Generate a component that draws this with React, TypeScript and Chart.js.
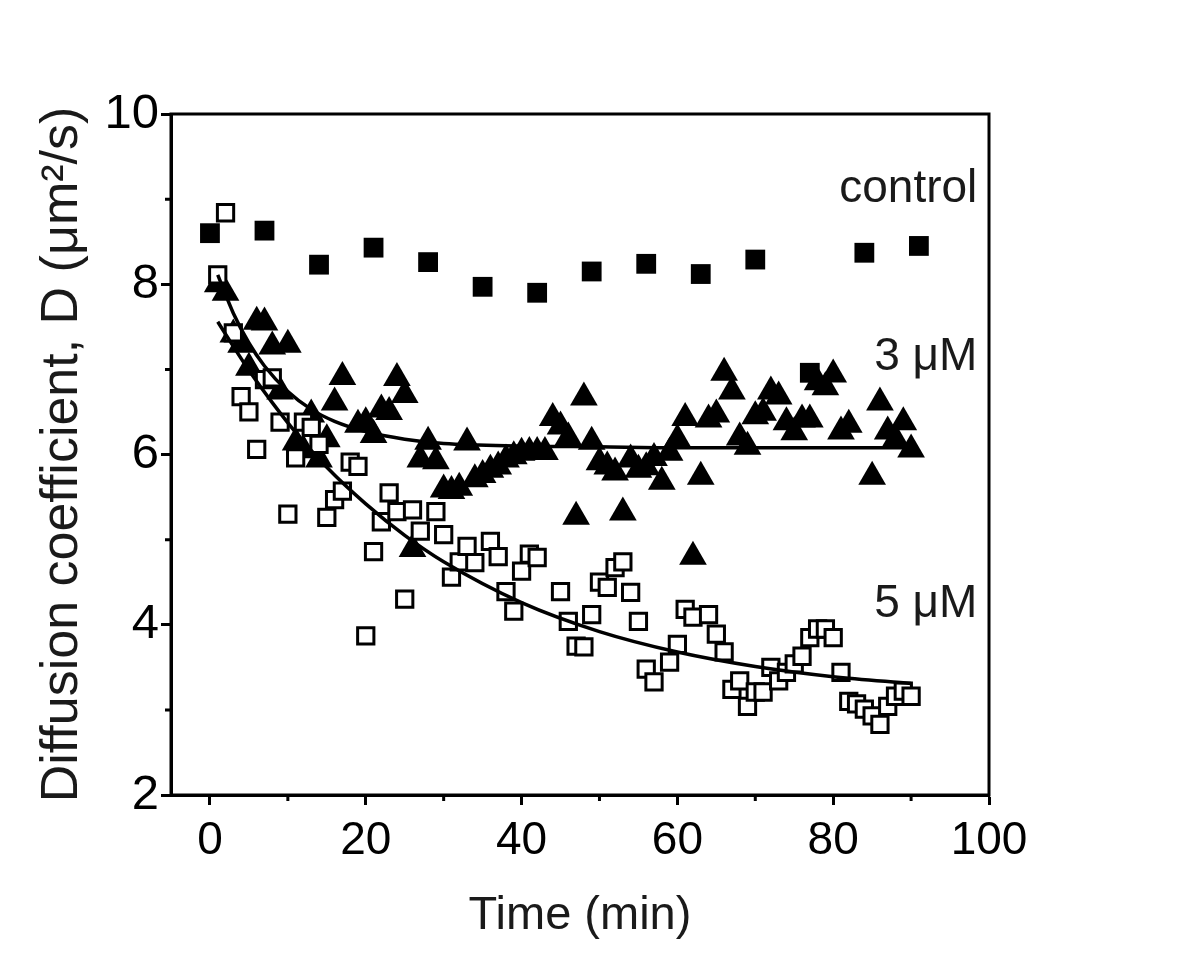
import React, { useEffect, useRef } from "react";
import { Chart, registerables } from "chart.js";

Chart.register(...registerables);

// ---- data ----
const controlTime = [0, 7, 14, 21, 28, 35, 42, 49, 56, 63, 70, 77, 84, 91];
const controlD = [8.6, 8.63, 8.23, 8.43, 8.26, 7.97, 7.9, 8.15, 8.24, 8.12, 8.29, 6.96, 8.37, 8.45];

const uM3Time = [
  1, 2, 3, 4, 5, 6, 7, 8, 9, 10,
  11, 12, 13, 14, 15, 16, 17,
  19, 20, 21, 22, 23, 24, 25, 26, 27, 28,
  29, 30, 31, 32, 33, 34, 35, 36, 37, 38,
  39, 40, 41, 42, 43, 44, 45, 46, 47, 48,
  49, 50, 51, 52, 53, 54, 55, 56, 57, 58,
  59, 60, 61, 62, 63, 64, 65, 66, 67, 68,
  69, 70, 71, 72, 73, 74, 75, 76, 77, 78,
  79, 80, 81, 82,
  85, 86, 87, 88, 89, 90,
];
const uM3D = [
  8.0, 7.9, 7.41, 7.29, 7.02, 7.56, 7.55, 7.27, 6.74, 7.29,
  6.14, 6.05, 6.47, 5.94, 6.18, 6.61, 6.91,
  6.35, 6.38, 6.23, 6.53, 6.5, 6.9, 6.7, 4.89, 5.94, 6.15,
  5.92, 5.59, 5.57, 5.61, 6.14, 5.71, 5.76, 5.82, 5.86, 5.94,
  5.98, 6.02, 6.03, 6.03, 6.03, 6.43, 6.33, 6.2, 5.27, 6.67,
  6.15, 5.91, 5.86, 5.79, 5.32, 5.94, 5.82, 5.85, 5.96, 5.68,
  6.02, 6.18, 6.43, 4.8, 5.74, 6.41, 6.47, 6.96, 6.74, 6.2,
  6.09, 6.45, 6.49, 6.74, 6.68, 6.38, 6.26, 6.41, 6.41, 6.85,
  6.79, 6.94, 6.27, 6.35,
  5.74, 6.61, 6.27, 6.18, 6.38, 6.06,
];

const uM5Time = [
  1, 2, 3, 4, 5, 6, 7, 8, 9, 10,
  11, 12, 13, 14, 15, 16, 17, 18, 19, 20,
  21, 22, 23, 24, 25, 26, 27, 29, 30, 31,
  32, 33, 34, 36, 37, 38, 39, 40, 41, 42,
  45, 46, 47, 48, 49, 50, 51, 52, 53, 54,
  55, 56, 57, 59, 60, 61, 62, 64, 65, 66,
  67, 68, 69, 70, 71, 72, 73, 74, 75, 76,
  77, 78, 79, 80, 81, 82, 83, 84, 85, 86,
  87, 88, 89, 90,
];
const uM5D = [
  8.11, 8.84, 7.43, 6.68, 6.5, 6.06, 6.88, 6.9, 6.38, 5.3,
  5.96, 6.38, 6.32, 6.12, 5.26, 5.47, 5.57, 5.91, 5.86, 3.87,
  4.86, 5.21, 5.55, 5.33, 4.3, 5.35, 5.1, 5.33, 5.06, 4.56,
  4.74, 4.92, 4.73, 4.98, 4.8, 4.39, 4.16, 4.63, 4.83, 4.79,
  4.39, 4.04, 3.75, 3.74, 4.12, 4.5, 4.44, 4.67, 4.74, 4.38,
  4.04, 3.48, 3.33, 3.56, 3.77, 4.18, 4.09, 4.12, 3.89, 3.68,
  3.24, 3.34, 3.04, 3.21, 3.21, 3.5, 3.34, 3.44, 3.54, 3.63,
  3.85, 3.95, 3.95, 3.85, 3.44, 3.1, 3.07, 3.01, 2.93, 2.83,
  3.04, 3.16, 3.22, 3.16,
];

// fitted curves
const fit3Time = [1, 3, 5, 7, 10, 13, 16, 20, 25, 30, 40, 50, 60, 70, 80, 90];
const fit3D = [8.11, 7.66, 7.31, 7.04, 6.74, 6.53, 6.39, 6.27, 6.18, 6.13, 6.1, 6.09, 6.08, 6.08, 6.08, 6.08];
const fit5Time = [1, 3, 5, 8, 11, 15, 20, 25, 30, 40, 50, 60, 70, 80, 90];
const fit5D = [7.56, 7.27, 6.99, 6.61, 6.26, 5.85, 5.42, 5.05, 4.74, 4.26, 3.92, 3.68, 3.51, 3.39, 3.31];

const xMajorTicks = [0, 20, 40, 60, 80, 100];
const xMinorTicks = [10, 30, 50, 70, 90];
const yMajorTicks = [2, 4, 6, 8, 10];
const yMinorTicks = [3, 5, 7, 9];

const seriesLabels = ["control", "3 \u03BCM", "5 \u03BCM"];
const labelAnchorX = [98.5, 98.5, 98.5];
const labelAnchorY = [9.11, 7.14, 4.24];

const FONT = '"Liberation Sans", Arial, Helvetica, sans-serif';

const toPts = (xs: number[], ys: number[]) => xs.map((x, i) => ({ x, y: ys[i] }));

const framePlugin = {
  id: "frameAndLabels",
  afterDraw(chart: any) {
    const { ctx, chartArea: a, scales } = chart;
    ctx.save();
    ctx.strokeStyle = "#000";
    ctx.lineWidth = 3;
    ctx.strokeRect(a.left, a.top, a.right - a.left, a.bottom - a.top);
    ctx.beginPath();
    xMinorTicks.forEach((v) => {
      const px = scales.x.getPixelForValue(v);
      ctx.moveTo(px, a.bottom);
      ctx.lineTo(px, a.bottom + 6);
    });
    yMinorTicks.forEach((v) => {
      const py = scales.y.getPixelForValue(v);
      ctx.moveTo(a.left, py);
      ctx.lineTo(a.left - 6, py);
    });
    ctx.stroke();
    ctx.fillStyle = "#1a1a1a";
    ctx.font = `46px ${FONT}`;
    ctx.textAlign = "right";
    ctx.textBaseline = "middle";
    seriesLabels.forEach((t, i) => {
      ctx.fillText(t, scales.x.getPixelForValue(labelAnchorX[i]), scales.y.getPixelForValue(labelAnchorY[i]));
    });
    ctx.restore();
  },
};

export default function App() {
  const ref = useRef<HTMLCanvasElement | null>(null);
  useEffect(() => {
    if (!ref.current) return;
    const chart = new Chart(ref.current, {
      type: "scatter",
      data: {
        datasets: [
          {
            label: "fit 3",
            data: toPts(fit3Time, fit3D),
            showLine: true,
            borderColor: "#000",
            borderWidth: 3.5,
            pointRadius: 0,
            cubicInterpolationMode: "monotone",
          } as any,
          {
            label: "fit 5",
            data: toPts(fit5Time, fit5D),
            showLine: true,
            borderColor: "#000",
            borderWidth: 3.5,
            pointRadius: 0,
            cubicInterpolationMode: "monotone",
          } as any,
          {
            label: "5 uM",
            data: toPts(uM5Time, uM5D),
            pointStyle: "rect",
            pointRadius: 11.5,
            pointBorderWidth: 3,
            pointBorderColor: "#000",
            pointBackgroundColor: "#fff",
          },
          {
            label: "3 uM",
            data: toPts(uM3Time, uM3D),
            pointStyle: "triangle",
            pointRadius: 16,
            pointBorderWidth: 0,
            pointBackgroundColor: "#000",
            pointBorderColor: "#000",
          },
          {
            label: "control",
            data: toPts(controlTime, controlD),
            pointStyle: "rect",
            pointRadius: 14,
            pointBorderWidth: 0,
            pointBackgroundColor: "#000",
            pointBorderColor: "#000",
          },
        ],
      },
      options: {
        responsive: false,
        animation: false,
        events: [],
        layout: { padding: { top: 114, right: 211, left: 0, bottom: 0 } },
        plugins: { legend: { display: false }, tooltip: { enabled: false } },
        scales: {
          x: {
            type: "linear",
            min: -5,
            max: 100,
            afterBuildTicks: (axis: any) => {
              axis.ticks = xMajorTicks.map((v) => ({ value: v }));
            },
            afterFit: (scale: any) => {
              scale.height = 159;
            },
            grid: { drawOnChartArea: false, drawTicks: true, tickLength: 10, tickWidth: 3, tickColor: "#000" },
            border: { display: true, width: 3, color: "#000" },
            ticks: { color: "#000", font: { family: FONT, size: 46 }, padding: 9, maxRotation: 0 },
            title: {
              display: true,
              text: "Time (min)",
              color: "#1a1a1a",
              font: { family: FONT, size: 47, lineHeight: 1 },
              padding: { top: 0, bottom: 14 },
            },
          },
          y: {
            type: "linear",
            min: 2,
            max: 10,
            afterBuildTicks: (axis: any) => {
              axis.ticks = yMajorTicks.map((v) => ({ value: v }));
            },
            afterFit: (scale: any) => {
              scale.width = 171;
            },
            grid: { drawOnChartArea: false, drawTicks: true, tickLength: 10, tickWidth: 3, tickColor: "#000" },
            border: { display: true, width: 3, color: "#000" },
            ticks: { color: "#000", font: { family: FONT, size: 49 }, padding: 2 },
            title: {
              display: true,
              text: "Diffusion coefficient, D (\u03BCm\u00B2/s)",
              color: "#1a1a1a",
              font: { family: FONT, size: 52, lineHeight: 1 },
              padding: { top: 37, bottom: 0 },
            },
          },
        },
      },
      plugins: [framePlugin],
    });
    return () => chart.destroy();
  }, []);
  return (
    <div style={{ position: "fixed", left: 0, top: 0, width: 1200, height: 954, background: "#fff" }}>
      <canvas ref={ref} width={1200} height={954} style={{ display: "block" }} />
    </div>
  );
}
